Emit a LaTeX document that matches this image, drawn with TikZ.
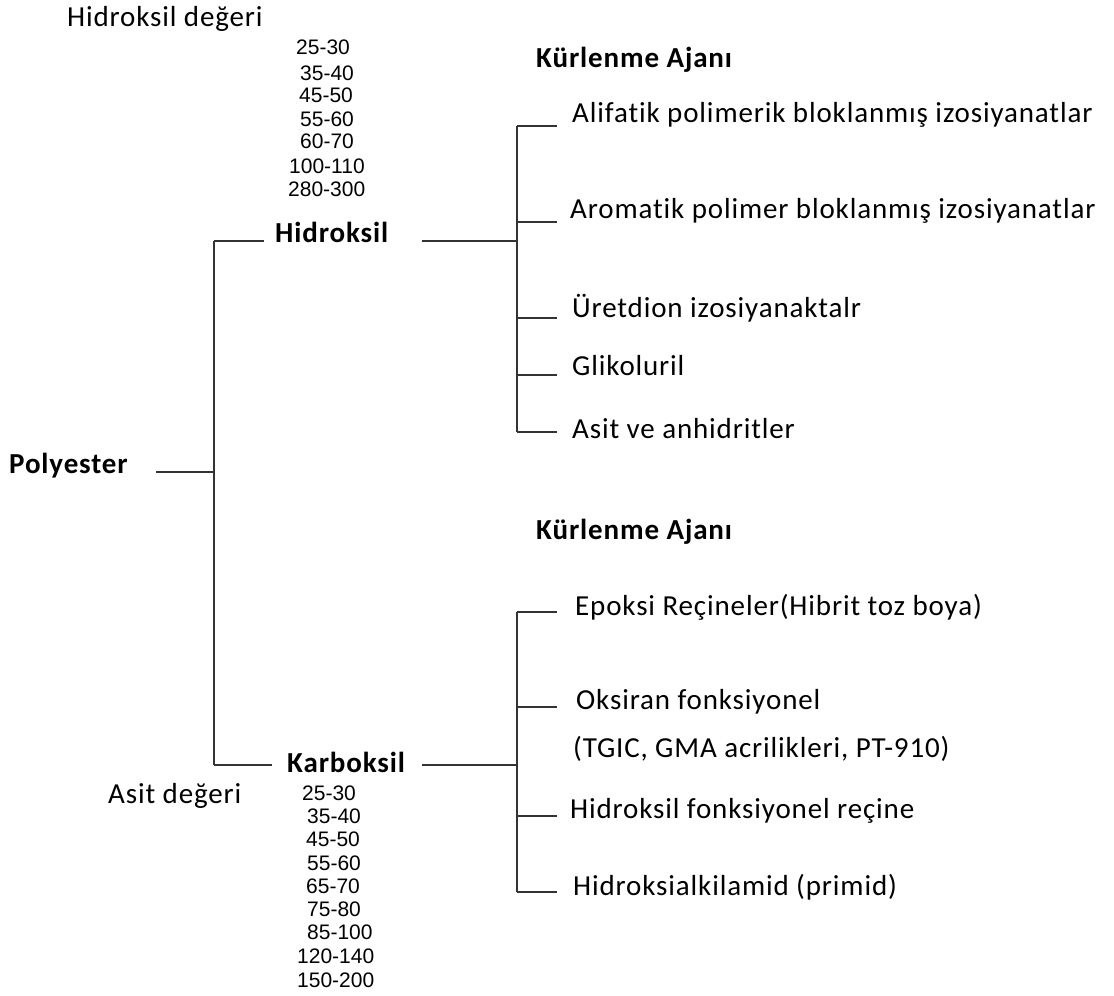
\documentclass[tikz,border=0pt]{standalone}
\usepackage{fontspec}
\setmainfont{Carlito}[LetterSpace=3,Ligatures=NoCommon]
\newfontfamily\numfont{Liberation Sans}
\begin{document}
\begin{tikzpicture}[x=1pt,y=-1pt,
  lbl/.style={anchor=base west, inner sep=0pt, font=\fontsize{29}{34}\selectfont},
  blbl/.style={anchor=base west, inner sep=0pt, font=\fontsize{29}{34}\selectfont\bfseries},
  num/.style={anchor=base west, inner sep=0pt, font=\numfont\fontsize{21}{25}\selectfont},
  conn/.style={draw=black!80, line width=1.8pt}]
\useasboundingbox (0,0) rectangle (1114,996);

% main labels
\node[lbl] (hdeg) at (67,26) {Hidroksil değeri};
\node[lbl] (adeg) at (108,803) {Asit değeri};
\node[blbl] (poly) at (9,473) {Polyester};
\node[blbl] (hid) at (275,242) {Hidroksil};
\node[blbl] (kar) at (287,772) {Karboksil};
\node[blbl] (ka1) at (536,67) {Kürlenme Ajanı};
\node[blbl] (ka2) at (536,539) {Kürlenme Ajanı};

% hydroxyl values
\node[num] (h1) at (296,54) {25-30};
\node[num] (h2) at (300,80) {35-40};
\node[num] (h3) at (299,102) {45-50};
\node[num] (h4) at (300,126) {55-60};
\node[num] (h5) at (300,148) {60-70};
\node[num] (h6) at (289,173) {100-110};
\node[num] (h7) at (288,196) {280-300};

% acid values
\node[num] (a1) at (302,800) {25-30};
\node[num] (a2) at (307,823) {35-40};
\node[num] (a3) at (306,846) {45-50};
\node[num] (a4) at (307,870) {55-60};
\node[num] (a5) at (306,893) {65-70};
\node[num] (a6) at (307,916) {75-80};
\node[num] (a7) at (307,939) {85-100};
\node[num] (a8) at (297,963) {120-140};
\node[num] (a9) at (297,987) {150-200};

% hydroxyl curing agents
\node[lbl] (r1) at (572,122) {Alifatik polimerik bloklanmış izosiyanatlar};
\node[lbl] (r2) at (570,218) {Aromatik polimer bloklanmış izosiyanatlar};
\node[lbl] (r3) at (572,317) {Üretdion izosiyanaktalr};
\node[lbl] (r4) at (572,375) {Glikoluril};
\node[lbl] (r5) at (572,438) {Asit ve anhidritler};

% carboxyl curing agents
\node[lbl] (c1) at (575,615) {Epoksi Reçineler(Hibrit toz boya)};
\node[lbl] (c2) at (576,709) {Oksiran fonksiyonel};
\node[lbl] (c2b) at (573,757) {(TGIC, GMA acrilikleri, PT-910)};
\node[lbl] (c3) at (570,818) {Hidroksil fonksiyonel reçine};
\node[lbl] (c4) at (573,895) {Hidroksialkilamid (primid)};

% junction coordinates
\coordinate (pS) at (156,472);
\coordinate (pJ) at (214,472);
\coordinate (tT) at (214,241);
\coordinate (tB) at (214,765);
\coordinate (hIn) at (264,241);
\coordinate (kIn) at (272,765);
\coordinate (hOut) at (422,241);
\coordinate (kOut) at (422,765);
\coordinate (hJ) at (517,241);
\coordinate (kJ) at (517,765);

% connectors
\draw[conn] (pS) -- (pJ);
\draw[conn] (tT) -- (tB);
\draw[conn] (tT) -- (hIn);
\draw[conn] (tB) -- (kIn);
\draw[conn] (hOut) -- (hJ);
\draw[conn] (kOut) -- (kJ);

\draw[conn] (517,126) -- (517,432);
\foreach \yy in {126,222,318,375,432} {\draw[conn] (517,\yy) -- (557,\yy);}
\draw[conn] (517,612) -- (517,892);
\foreach \yy in {612,707,816,892} {\draw[conn] (517,\yy) -- (557,\yy);}
\end{tikzpicture}
\end{document}
